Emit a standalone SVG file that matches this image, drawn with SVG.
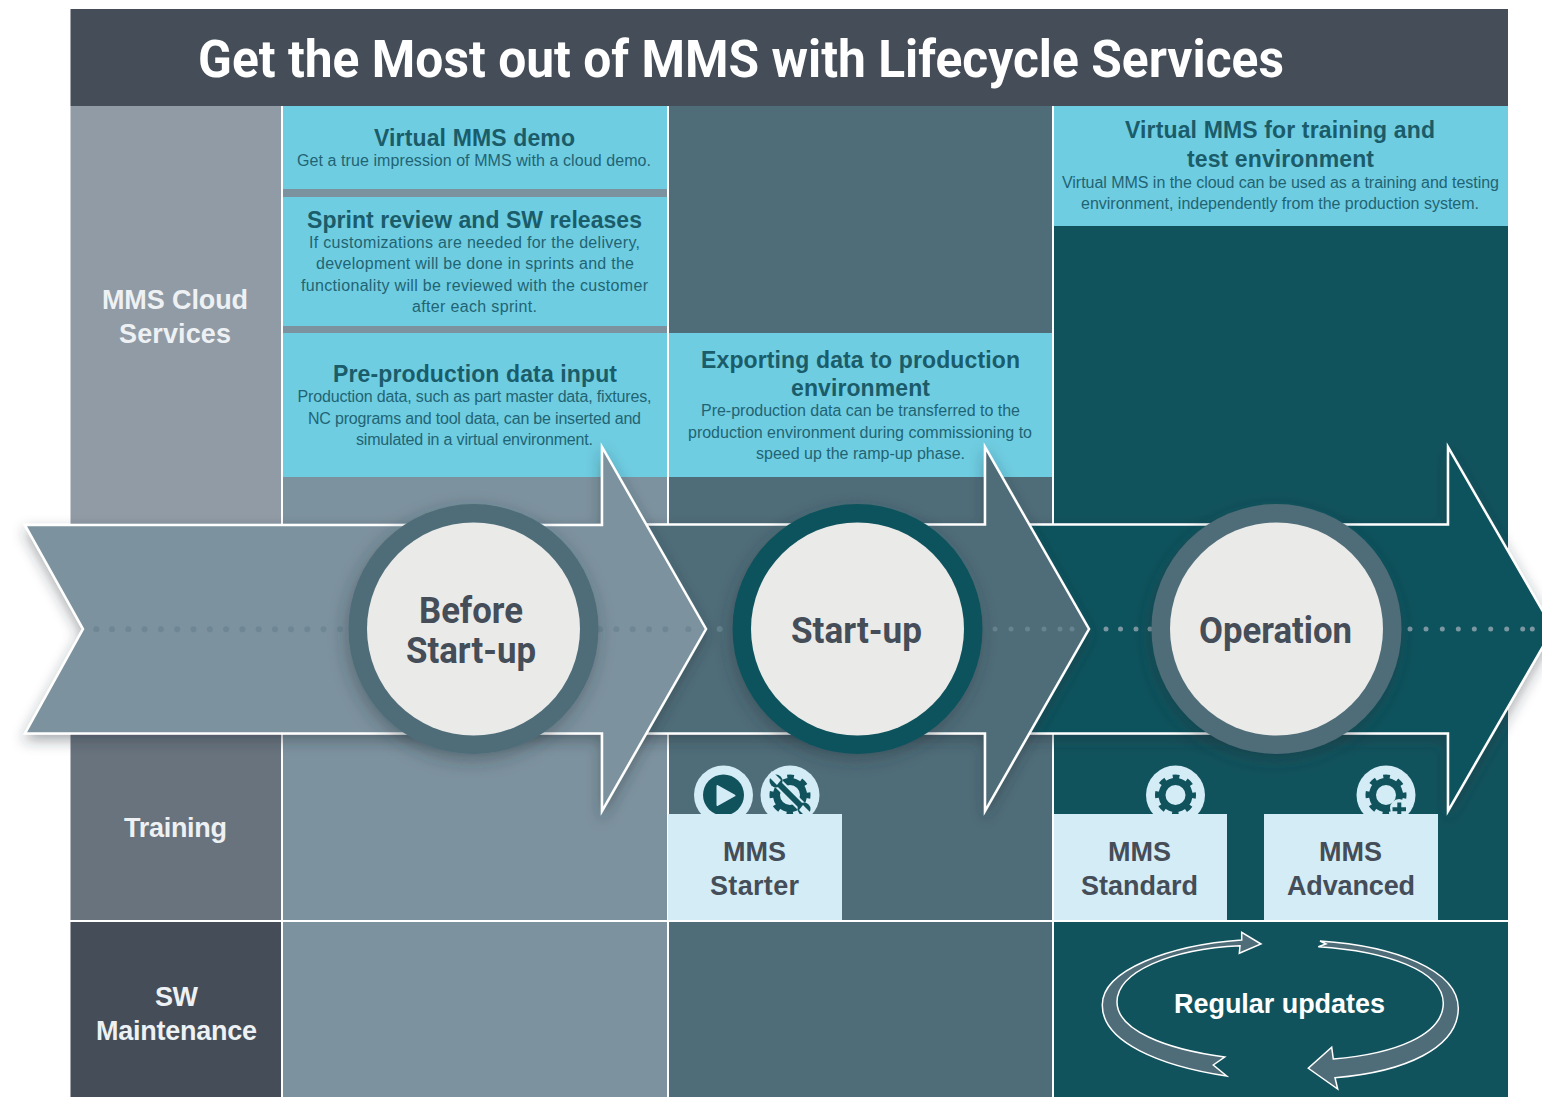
<svg xmlns="http://www.w3.org/2000/svg" width="1542" height="1097" viewBox="0 0 1542 1097">
<style>
text{font-family:"Liberation Sans",Arial,sans-serif;text-anchor:middle}
.h{font-weight:700;font-size:23px;fill:#1a5c6a}
.b{font-size:16px;fill:#1f6474}
.w{font-weight:700;font-size:27px;fill:#eef1f3}
.t{font-weight:700;font-size:27px;fill:#444d58}
.c{font-family:Roboto,"Liberation Sans",sans-serif;font-weight:700;font-size:36px;fill:#444d58}
.ar{stroke:#fff;stroke-width:2.500;filter:url(#sh)}
.ring{filter:url(#sh2)}
.disc{fill:#eaeae8}
.pale{fill:#d4ecf5}
.dk{fill:#11535d}
.cy{fill:#6fcde1}
.d1{fill:#6f8795}.d2{fill:#668490}.d3{fill:#7c97a1}
.upd{fill:#4f6d79;stroke:#fff;stroke-width:1.500}
</style>
<defs>
<filter id="sh" x="-10%" y="-10%" width="120%" height="120%"><feDropShadow dx="0" dy="6" stdDeviation="7" flood-color="#20303a" flood-opacity=".4"/></filter>
<filter id="sh2" x="-20%" y="-20%" width="140%" height="140%"><feDropShadow dx="-2" dy="6" stdDeviation="9" flood-color="#20303a" flood-opacity=".4"/></filter>
<g id="gear"><circle r="13.500" fill="none" stroke="#11535d" stroke-width="7"/><circle r="18" fill="none" stroke="#11535d" stroke-width="5" stroke-dasharray="6.600 7.540" stroke-dashoffset="3.300"/></g>
</defs>
<rect width="1542" height="1097" fill="#fff"/>
<g id="background">
<rect x="70.500" y="9" width="1437.500" height="97" fill="#444d58"/>
<rect x="70.500" y="106" width="210.500" height="420" fill="#919ba5"/>
<rect x="70.500" y="730" width="210.500" height="190" fill="#69737e"/>
<rect x="70.500" y="922" width="210.500" height="175" fill="#444d58"/>
<rect x="283" y="106" width="384" height="991" fill="#7c929e"/>
<rect x="669" y="106" width="383" height="991" fill="#4f6d79"/>
<rect x="1054" y="106" width="454" height="991" fill="#11535d"/>
<rect x="70" y="920" width="1438" height="2" fill="#fff"/>
</g>
<g id="title"><text x="741" y="77" textLength="1086" lengthAdjust="spacingAndGlyphs" style="font-family:Roboto,'Liberation Sans',sans-serif;font-weight:700;font-size:51px;fill:#fff">Get the Most out of MMS with Lifecycle Services</text></g>
<g id="row-labels">
<text class="w" x="175" y="309" textLength="146">MMS Cloud</text><text class="w" x="175" y="343" textLength="112">Services</text>
<text class="w" x="175.500" y="837" textLength="103">Training</text>
<text class="w" x="176.500" y="1006" textLength="43">SW</text><text class="w" x="176.500" y="1040" textLength="161">Maintenance</text>
</g>
<g id="box-virtual-demo"><rect class="cy" x="283" y="106" width="384" height="83"/>
<text class="h" x="474.500" y="145.500" textLength="201">Virtual MMS demo</text>
<text class="b" x="474" y="166" textLength="354">Get a true impression of MMS with a cloud demo.</text></g>
<g id="box-sprint"><rect class="cy" x="283" y="197" width="384" height="129"/>
<text class="h" x="474.500" y="227.500" textLength="335">Sprint review and SW releases</text>
<text class="b" x="474.500" y="248" textLength="331">If customizations are needed for the delivery,</text>
<text class="b" x="475" y="269" textLength="318">development will be done in sprints and the</text>
<text class="b" x="474.500" y="291" textLength="347">functionality will be reviewed with the customer</text>
<text class="b" x="474.500" y="312" textLength="125">after each sprint.</text></g>
<g id="box-preprod"><rect class="cy" x="283" y="333" width="384" height="144"/>
<text class="h" x="475" y="381.500" textLength="284">Pre-production data input</text>
<text class="b" x="474.500" y="402" textLength="354">Production data, such as part master data, fixtures,</text>
<text class="b" x="474.500" y="424" textLength="333">NC programs and tool data, can be inserted and</text>
<text class="b" x="474.500" y="445" textLength="237">simulated in a virtual environment.</text></g>
<g id="box-export"><rect class="cy" x="669" y="333" width="383" height="144"/>
<text class="h" x="860.500" y="367.500" textLength="319">Exporting data to production</text>
<text class="h" x="860.500" y="395.500" textLength="139">environment</text>
<text class="b" x="860.500" y="416" textLength="319">Pre-production data can be transferred to the</text>
<text class="b" x="860" y="438" textLength="344">production environment during commissioning to</text>
<text class="b" x="860.500" y="459" textLength="209">speed up the ramp-up phase.</text></g>
<g id="box-virtual-training"><rect class="cy" x="1054" y="106" width="454" height="120"/>
<text class="h" x="1280" y="138" textLength="310">Virtual MMS for training and</text>
<text class="h" x="1280.500" y="167" textLength="187">test environment</text>
<text class="b" x="1280.500" y="188" textLength="437">Virtual MMS in the cloud can be used as a training and testing</text>
<text class="b" x="1280" y="209" textLength="398">environment, independently from the production system.</text></g>
<g id="dividers"><path d="M282 106V524M282 735V1097M668 106V524M668 735V1097M1053 106V524M1053 735V1097" stroke="#fff" stroke-width="2" fill="none"/></g>
<g id="connectors">
<path id="arrow-operation" class="ar" fill="#11535d" d="M1000 524.500H1448V447L1553 629L1448 811V733.500H1000Z"/>
<g id="dots-3"><circle class="d3" cx="1106" cy="629" r="2.500"/><circle class="d3" cx="1120.500" cy="629" r="2.500"/><circle class="d3" cx="1136" cy="629" r="2.500"/><circle class="d3" cx="1150" cy="629" r="2.500"/><circle class="d3" cx="1410" cy="629" r="2.500"/><circle class="d3" cx="1426" cy="629" r="2.500"/><circle class="d3" cx="1442.300" cy="629" r="2.500"/><circle class="d3" cx="1458.300" cy="629" r="2.500"/><circle class="d3" cx="1474.300" cy="629" r="2.500"/><circle class="d3" cx="1490.700" cy="629" r="2.500"/><circle class="d3" cx="1506.700" cy="629" r="2.500"/><circle class="d3" cx="1522.700" cy="629" r="2.500"/><circle class="d3" cx="1532.300" cy="629" r="2.500"/></g>
<path id="arrow-startup" class="ar" fill="#4f6d79" d="M620 524.500H985V447L1089 629L985 811V733.500H620Z"/>
<g id="dots-2"><circle class="d2" cx="719.700" cy="629" r="3"/><circle class="d2" cx="995" cy="629" r="2.500"/><circle class="d2" cx="1011" cy="629" r="2.500"/><circle class="d2" cx="1027.500" cy="629" r="2.500"/><circle class="d2" cx="1044" cy="629" r="2.500"/><circle class="d2" cx="1060" cy="629" r="2.500"/><circle class="d2" cx="1072" cy="629" r="2.500"/></g>
<path id="arrow-before" class="ar" fill="#7c929e" d="M25 525H602V447L706 629L602 811V733.500H25L83 629Z"/>
<g id="dots-1"><circle class="d1" cx="96.300" cy="629.300" r="3"/><circle class="d1" cx="112" cy="629.300" r="3"/><circle class="d1" cx="128.300" cy="629.300" r="3"/><circle class="d1" cx="144.600" cy="629.300" r="3"/><circle class="d1" cx="160.900" cy="629.300" r="3"/><circle class="d1" cx="177.200" cy="629.300" r="3"/><circle class="d1" cx="193.500" cy="629.300" r="3"/><circle class="d1" cx="209.800" cy="629.300" r="3"/><circle class="d1" cx="226.100" cy="629.300" r="3"/><circle class="d1" cx="242.400" cy="629.300" r="3"/><circle class="d1" cx="258.700" cy="629.300" r="3"/><circle class="d1" cx="275" cy="629.300" r="3"/><circle class="d1" cx="291" cy="629.300" r="3"/><circle class="d1" cx="307.300" cy="629.300" r="3"/><circle class="d1" cx="323.500" cy="629.300" r="3"/><circle class="d1" cx="340" cy="629.300" r="3"/><circle class="d1" cx="600" cy="629.300" r="3"/><circle class="d1" cx="616.300" cy="629.300" r="3"/><circle class="d1" cx="632.700" cy="629.300" r="3"/><circle class="d1" cx="649" cy="629.300" r="3"/><circle class="d1" cx="665.300" cy="629.300" r="3"/><circle class="d1" cx="688.300" cy="629.300" r="3"/></g>
</g>
<g id="node-before"><circle class="ring" cx="473.500" cy="629" r="125" fill="#4f6d79"/><circle class="disc" cx="473.500" cy="629" r="106.500"/>
<text class="c" x="471" y="623" textLength="104" lengthAdjust="spacingAndGlyphs">Before</text><text class="c" x="471" y="663" textLength="130" lengthAdjust="spacingAndGlyphs">Start-up</text></g>
<g id="node-startup"><circle class="ring" cx="857.500" cy="629" r="125" fill="#11535d"/><circle class="disc" cx="857.500" cy="629" r="106.500"/>
<text class="c" x="856.500" y="643" textLength="131" lengthAdjust="spacingAndGlyphs">Start-up</text></g>
<g id="node-operation"><circle class="ring" cx="1276.500" cy="629" r="125" fill="#4f6d79"/><circle class="disc" cx="1276.500" cy="629" r="106.500"/>
<text class="c" x="1275.500" y="643" textLength="153" lengthAdjust="spacingAndGlyphs">Operation</text></g>
<g id="icon-play"><circle class="pale" cx="723.500" cy="795" r="29.500"/><circle class="dk" cx="723.500" cy="795" r="20.500"/><path class="pale" stroke="#d4ecf5" stroke-width="2" stroke-linejoin="round" d="M717.500 786L734.500 795.500L717.500 805Z"/></g>
<g id="icon-wrench"><circle class="pale" cx="790" cy="795" r="29.500"/><use href="#gear" x="790" y="795"/>
<path d="M776 781L804 809" stroke="#d4ecf5" stroke-width="10" fill="none"/><path d="M779 784L801 806" stroke="#11535d" stroke-width="6" fill="none"/>
<circle class="dk" cx="776" cy="781" r="6.500"/><circle class="dk" cx="804" cy="809" r="6.500"/>
<path class="pale" d="M772 771L781 780L777 785L768 776ZM808 819L799 810L803 805L812 814Z"/></g>
<g id="icon-gear"><circle class="pale" cx="1175.500" cy="795" r="29.500"/><use href="#gear" x="1175.500" y="795"/></g>
<g id="icon-gear-plus"><circle class="pale" cx="1386" cy="795" r="29.500"/><use href="#gear" x="1386" y="795"/><circle class="pale" cx="1399" cy="808" r="9"/><path d="M1399.300 802.500V816M1392.500 809.300H1406" stroke="#11535d" stroke-width="4" fill="none"/></g>
<g id="box-starter"><rect class="pale" x="668" y="814" width="174" height="106"/><text class="t" x="754.500" y="861" textLength="63">MMS</text><text class="t" x="754.500" y="895" textLength="89">Starter</text></g>
<g id="box-standard"><rect class="pale" x="1054" y="814" width="173" height="106"/><text class="t" x="1139.500" y="861" textLength="63">MMS</text><text class="t" x="1139.500" y="895" textLength="117">Standard</text></g>
<g id="box-advanced"><rect class="pale" x="1264" y="814" width="174" height="106"/><text class="t" x="1350.500" y="861" textLength="63">MMS</text><text class="t" x="1351" y="895" textLength="128">Advanced</text></g>
<g id="regular-updates">
<path class="upd" d="M1241.700 940V932.300L1261 944L1239.300 953.300L1240 945.700C1170 949 1117 972 1117 1002C1117 1030 1165 1049 1224.700 1057L1213.300 1065L1226.700 1076C1160 1066 1102 1042 1102.300 1005C1102 970 1170 945 1241.700 940Z"/>
<path class="upd" d="M1320 941L1326 944L1318.300 946.700C1385 951 1443 970 1443.300 1003.300C1443 1035 1395 1054 1333.300 1059L1331.700 1047.300L1308.300 1068.300L1337.700 1089L1335 1077.700C1405 1072 1458 1048 1458.300 1008.300C1458 970 1395 946 1320 941Z"/>
<text x="1279.500" y="1013" textLength="211" style="font-weight:700;font-size:27px;fill:#fff">Regular updates</text>
</g>
</svg>
